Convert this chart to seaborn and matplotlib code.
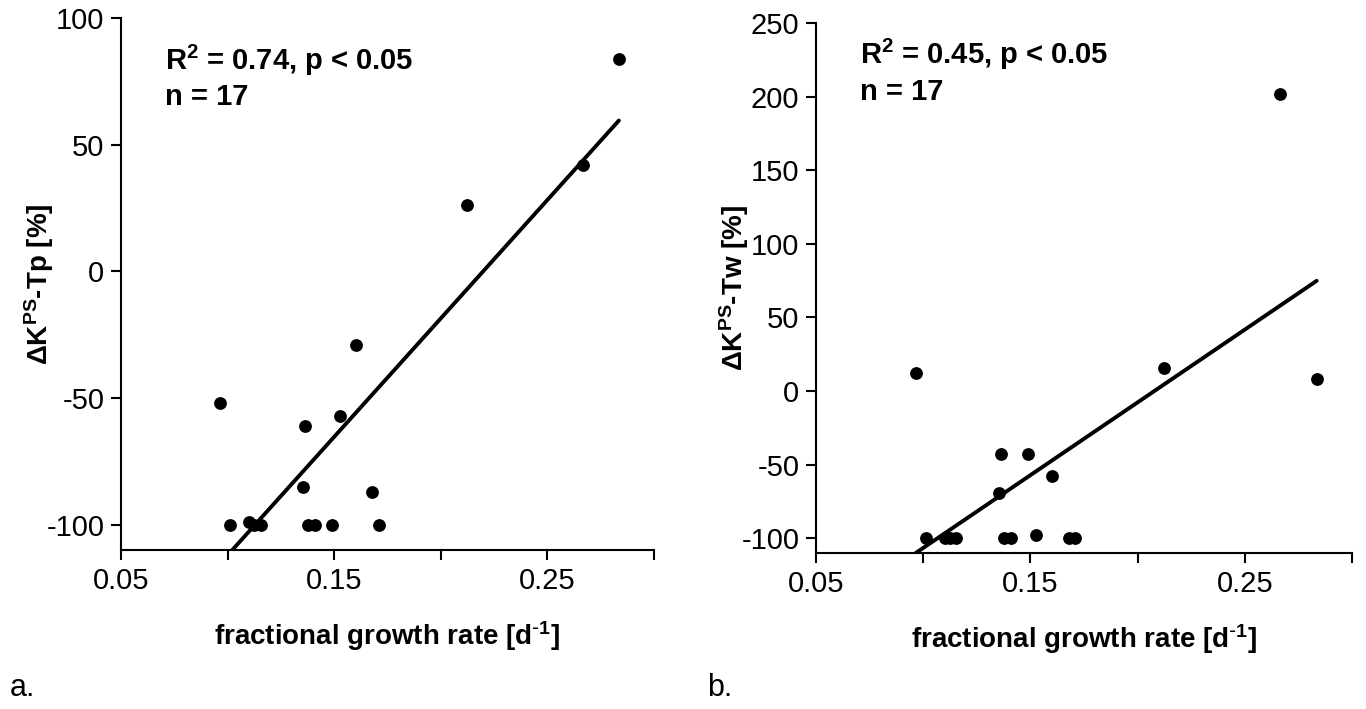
import matplotlib
matplotlib.use("Agg")
import matplotlib.pyplot as plt
from matplotlib import font_manager
import seaborn as sns
import pandas as pd

# ---- data ----
growth_rate = [0.0964, 0.1012, 0.1101, 0.1124, 0.1155, 0.1352, 0.1362, 0.1377, 0.1411,
               0.1489, 0.1528, 0.1602, 0.1678, 0.1710, 0.2122, 0.2665, 0.2835]
dk_tp = [-52, -100, -99, -100, -100, -85, -61, -100, -100,
         -100, -57, -29, -87, -100, 26, 42, 84]
dk_tw = [12, -100, -100, -100, -100, -69, -43, -100, -100,
         -43, -98, -58, -100, -100, 16, 202, 8]

x_ticks = [0.05, 0.10, 0.15, 0.20, 0.25, 0.30]
x_tick_labels = ["0.05", "", "0.15", "", "0.25", ""]
y_ticks_a = [-100, -50, 0, 50, 100]
y_ticks_b = [-100, -50, 0, 50, 100, 150, 200, 250]
stats_a = ["R$^2$ = 0.74, p < 0.05", "n = 17"]
stats_b = ["R$^2$ = 0.45, p < 0.05", "n = 17"]
ylabel_a = "ΔK$^{PS}$-Tp [%]"
ylabel_b = "ΔK$^{PS}$-Tw [%]"
xlabel = r"fractional growth rate [d$^{\text{-}1}$]"

df = pd.DataFrame({"rate": growth_rate, "tp": dk_tp, "tw": dk_tw})

sns.set_style("ticks")
names = {f.name for f in font_manager.fontManager.ttflist}
narrow = "Liberation Sans Narrow" if "Liberation Sans Narrow" in names else "Liberation Sans"
plt.rcParams["font.family"] = [narrow, "Liberation Sans", "DejaVu Sans"]
plt.rcParams["mathtext.fontset"] = "custom"
plt.rcParams["mathtext.default"] = "regular"
for k in ["text.color", "axes.labelcolor", "xtick.color", "ytick.color", "axes.edgecolor"]:
    plt.rcParams[k] = "black"
plt.rcParams["axes.linewidth"] = 1.5
plt.rcParams["xtick.major.width"] = 1.5
plt.rcParams["ytick.major.width"] = 1.5
plt.rcParams["xtick.major.size"] = 7
plt.rcParams["ytick.major.size"] = 7

fig = plt.figure(figsize=(13.66, 7.09), dpi=100)
ax_a = fig.add_axes([0.0886, 0.2243, 0.3902, 0.7503])
ax_b = fig.add_axes([0.5974, 0.2200, 0.3924, 0.7475])

tick_fs = 21
label_fs = 20
stat_fs = 21

for ax, col, yt, ylim, ylab, stats, sy in [
        (ax_a, "tp", y_ticks_a, (-110, 100), ylabel_a, stats_a, (0.921, 0.851)),
        (ax_b, "tw", y_ticks_b, (-110, 250), ylabel_b, stats_b, (0.940, 0.870))]:
    sns.regplot(data=df, x="rate", y=col, ax=ax, ci=None, color="black",
                scatter_kws=dict(s=85, linewidths=0, alpha=1, zorder=3),
                line_kws=dict(lw=2.8, color="black"))
    ax.set_xlim(0.05, 0.30)
    ax.set_ylim(*ylim)
    ax.set_xticks(x_ticks)
    ax.set_xticklabels(x_tick_labels)
    ax.set_yticks(yt)
    ax.set_yticklabels([str(v) for v in yt])
    ax.tick_params(labelsize=tick_fs, pad=5)
    sns.despine(ax=ax)
    ax.set_xlabel(xlabel, fontsize=label_fs, fontweight="bold")
    ax.set_ylabel(ylab, fontsize=label_fs, fontweight="bold")
    ax.xaxis.set_label_coords(0.5, -0.13)
    ax.yaxis.set_label_coords(-0.122, 0.5)
    ax.text(0.082, sy[0], stats[0], transform=ax.transAxes, fontsize=stat_fs,
            fontweight="bold", family=["Liberation Sans", "DejaVu Sans"], va="center", ha="left")
    ax.text(0.082, sy[1], stats[1], transform=ax.transAxes, fontsize=stat_fs,
            fontweight="bold", family=["Liberation Sans", "DejaVu Sans"], va="center", ha="left")

fig.text(0.0073, 0.0296, "a.", fontsize=22, ha="left", va="center")
fig.text(0.5176, 0.0296, "b.", fontsize=22, ha="left", va="center")

fig.savefig("out.png", dpi=100)
